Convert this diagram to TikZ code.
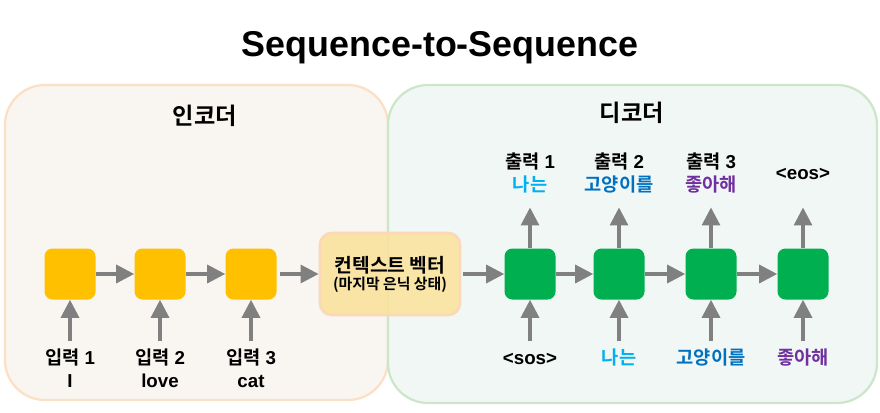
\documentclass[tikz,border=0pt]{standalone}
\usepackage{fontspec}
\setmainfont{Liberation Sans}
\newfontfamily\kr{Noto Sans CJK KR}[BoldFont={Noto Sans CJK KR Bold}]
\usetikzlibrary{arrows.meta, positioning}

\definecolor{encfill}{HTML}{F9F5F0}
\definecolor{encborder}{HTML}{FBE0C6}
\definecolor{decfill}{HTML}{F1F7F4}
\definecolor{decborder}{HTML}{CDE6CB}
\definecolor{cellyellow}{HTML}{FFC000}
\definecolor{cellgreen}{HTML}{00B050}
\definecolor{ctxfill}{HTML}{FAE29A}
\definecolor{ctxborder}{HTML}{FBD9B6}
\definecolor{arrowgray}{HTML}{808080}
\definecolor{wordone}{HTML}{00B0F0}
\definecolor{wordtwo}{HTML}{0070C0}
\definecolor{wordthree}{HTML}{7030A0}

\begin{document}
\begin{tikzpicture}[
    cell/.style={minimum width=1.275cm, minimum height=1.275cm, rounded corners=0.2cm, inner sep=0pt},
    enccell/.style={cell, fill=cellyellow},
    deccell/.style={cell, fill=cellgreen},
    flow/.style={draw=arrowgray, line width=2.2pt, -{Triangle[length=4.5mm,width=4.5mm]}},
    lbl/.style={font=\bfseries\fontsize{13.3}{16.4}\selectfont, align=center, inner sep=0pt},
    inlbl/.style={lbl, anchor=north},
    outlbl/.style={lbl, minimum height=1.2cm},
    boxtitle/.style={font=\bfseries\kr\fontsize{16.5}{19}\selectfont}
]
    \useasboundingbox (0,0) rectangle (22,-10.3);

    \node[font=\bfseries\fontsize{25.5}{30}\selectfont] (title) at (11,-1.19) {Sequence-to-Sequence};

    % encoder / decoder panels
    \node[draw=encborder, line width=1.6pt, fill=encfill, rounded corners=1cm, minimum width=9.575cm, minimum height=7.875cm] (encoder) at (4.9125,-6.0625) {};
    \node[draw=decborder, line width=1.6pt, fill=decfill, rounded corners=1cm, minimum width=12.225cm, minimum height=7.95cm] (decoder) at (15.8125,-6.1) {};
    \node[boxtitle] (enctitle) at (5.125,-2.9) {인코더};
    \node[boxtitle] (dectitle) at (15.8,-2.825) {디코더};

    % encoder cells
    \node[enccell] (e1) at (1.75,-6.85) {};
    \node[enccell] (e2) at (4.0,-6.85) {};
    \node[enccell] (e3) at (6.275,-6.85) {};

    \node[draw=ctxborder, line width=2pt, fill=ctxfill, fill opacity=0.85, text opacity=1, rounded corners=0.3cm, minimum width=3.5cm, minimum height=2.05cm, align=center, font=\bfseries\kr] (ctx) at (9.75,-6.85) {{\fontsize{13.7}{16.5}\selectfont 컨텍스트 벡터}\\{\fontsize{10.6}{12.5}\selectfont (마지막 은닉 상태)}};

    % decoder cells
    \node[deccell] (d1) at (13.25,-6.85) {};
    \node[deccell] (d2) at (15.475,-6.85) {};
    \node[deccell] (d3) at (17.775,-6.85) {};
    \node[deccell] (d4) at (20.075,-6.85) {};

    % inputs
    \node[inlbl] (in1) at (1.75,-8.7) {\strut{\kr 입력} 1\\\strut I};
    \node[inlbl] (in2) at (4.0,-8.7) {\strut{\kr 입력} 2\\\strut love};
    \node[inlbl] (in3) at (6.275,-8.7) {\strut{\kr 입력} 3\\\strut cat};
    \node[inlbl] (s1) at (13.25,-8.7) {\strut<sos>};
    \node[inlbl, text=wordone] (s2) at (15.475,-8.7) {\strut\kr 나는};
    \node[inlbl, text=wordtwo] (s3) at (17.775,-8.7) {\strut\kr 고양이를};
    \node[inlbl, text=wordthree] (s4) at (20.075,-8.7) {\strut\kr 좋아해};

    % outputs
    \node[outlbl] (o1) at (13.25,-4.38) {\strut{\kr 출력} 1\\\strut\textcolor{wordone}{\kr 나는}};
    \node[outlbl] (o2) at (15.475,-4.38) {\strut{\kr 출력} 2\\\strut\textcolor{wordtwo}{\kr 고양이를}};
    \node[outlbl] (o3) at (17.775,-4.38) {\strut{\kr 출력} 3\\\strut\textcolor{wordthree}{\kr 좋아해}};
    \node[outlbl] (o4) at (20.075,-4.38) {\strut<eos>};

    \draw[flow] (e1.east) -- (e2.west);
    \draw[flow] (e2.east) -- (e3.west);
    \draw[flow, shorten <=2pt] (e3.east) -- (ctx.west);
    \draw[flow, shorten <=1pt] (ctx.east) -- (d1.west);
    \draw[flow] (d1.east) -- (d2.west);
    \draw[flow] (d2.east) -- (d3.west);
    \draw[flow] (d3.east) -- (d4.west);

    \draw[flow, shorten <=0.17cm] (in1.north) -- (e1.south);
    \draw[flow, shorten <=0.17cm] (in2.north) -- (e2.south);
    \draw[flow, shorten <=0.17cm] (in3.north) -- (e3.south);
    \draw[flow, shorten <=0.17cm] (s1.north) -- (d1.south);
    \draw[flow, shorten <=0.17cm] (s2.north) -- (d2.south);
    \draw[flow, shorten <=0.17cm] (s3.north) -- (d3.south);
    \draw[flow, shorten <=0.17cm] (s4.north) -- (d4.south);

    \draw[flow, shorten >=0.2cm] (d1.north) -- (o1.south);
    \draw[flow, shorten >=0.2cm] (d2.north) -- (o2.south);
    \draw[flow, shorten >=0.2cm] (d3.north) -- (o3.south);
    \draw[flow, shorten >=0.2cm] (d4.north) -- (o4.south);
\end{tikzpicture}
\end{document}
